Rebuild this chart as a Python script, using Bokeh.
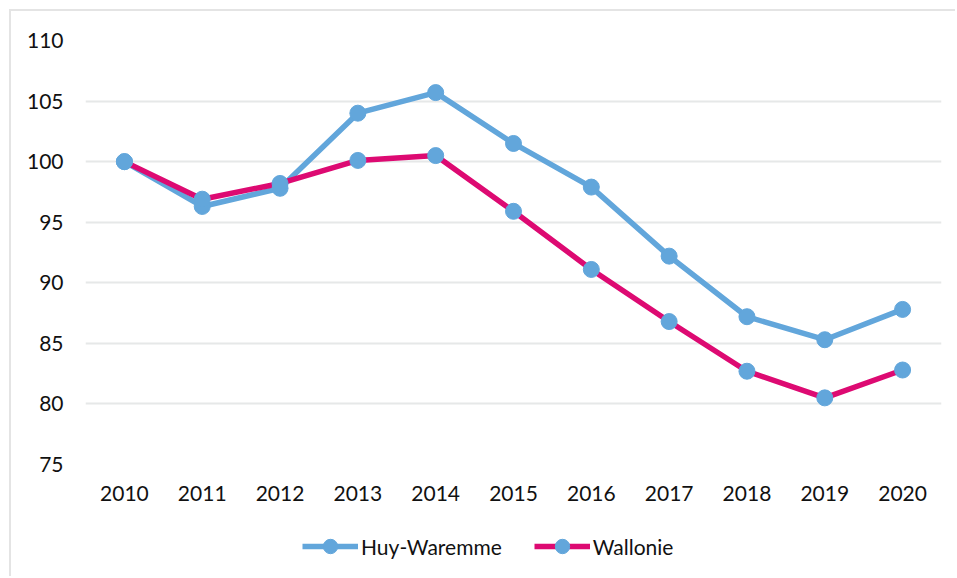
from bokeh.plotting import figure
from bokeh.layouts import column
from bokeh.models import Range1d, FactorRange, Legend, LegendItem, ColumnDataSource
from bokeh.embed import file_html
from bokeh.resources import INLINE

years = ["2010", "2011", "2012", "2013", "2014", "2015", "2016", "2017", "2018", "2019", "2020"]
huy_waremme = [100.0, 96.3, 97.8, 104.0, 105.7, 101.5, 97.9, 92.2, 87.2, 85.3, 87.8]
wallonie = [100.0, 96.9, 98.2, 100.1, 100.5, 95.9, 91.1, 86.8, 82.7, 80.5, 82.8]
y_ticks = [75, 80, 85, 90, 95, 100, 105, 110]

BLUE = "#62A6DB"
MAGENTA = "#DD0A72"
FONT = "Lato"
BORDER = "2px solid #E4E4E4"

src = ColumnDataSource(dict(x=years, hw=huy_waremme, wa=wallonie))

p = figure(width=946, height=508, x_range=FactorRange(*years), y_range=Range1d(75, 110),
           output_backend="svg", toolbar_location=None,
           min_border_left=74, min_border_right=16, min_border_top=29, min_border_bottom=55)
p.margin = (9, 0, 0, 9)
p.styles = {"border-left": BORDER, "border-top": BORDER}
p.outline_line_color = None
p.background_fill_color = "white"
p.border_fill_color = "white"

p.xgrid.grid_line_color = None
p.ygrid.grid_line_color = "#E6E8E8"
p.ygrid.grid_line_width = 2
p.yaxis.ticker = y_ticks

for ax in (p.xaxis[0], p.yaxis[0]):
    ax.axis_line_color = None
    ax.major_tick_line_color = None
    ax.minor_tick_line_color = None
    ax.major_tick_out = 0
    ax.major_tick_in = 0
    ax.major_label_text_font = FONT
    ax.major_label_text_font_size = "21px"
    ax.major_label_text_color = "#111111"
p.yaxis.major_label_standoff = 22
p.xaxis.major_label_standoff = 21
p.x_range.range_padding = 0

p.line("x", "hw", source=src, line_color=BLUE, line_width=5.5)
p.line("x", "wa", source=src, line_color=MAGENTA, line_width=5.5)
p.scatter("x", "hw", source=src, size=16, fill_color=BLUE, line_color=BLUE)
p.scatter("x", "wa", source=src, size=16, fill_color=BLUE, line_color=BLUE)

# legend strip below the chart (its glyphs fall outside its own range, only the legend shows)
lg = figure(width=946, height=59, x_range=FactorRange(*years), y_range=Range1d(0, 1),
            output_backend="svg", toolbar_location=None,
            x_axis_location=None, y_axis_location=None, min_border=0)
lg.margin = (0, 0, 0, 9)
lg.styles = {"border-left": BORDER}
lg.outline_line_color = None
lg.grid.grid_line_color = None
lg.background_fill_color = "white"
lg.border_fill_color = "white"

k1 = lg.line("x", "hw", source=src, line_color=BLUE, line_width=5.5)
k2 = lg.line("x", "wa", source=src, line_color=MAGENTA, line_width=5.5)
m1 = lg.scatter("x", "hw", source=src, size=16, fill_color=BLUE, line_color=BLUE)
m2 = lg.scatter("x", "wa", source=src, size=16, fill_color=BLUE, line_color=BLUE)

legend = Legend(items=[LegendItem(label="Huy-Waremme", renderers=[k1, m1]),
                       LegendItem(label="Wallonie", renderers=[k2, m2])],
                orientation="horizontal", location=(217, 12),
                glyph_width=56, glyph_height=36, label_standoff=3, spacing=32,
                padding=0, margin=0, border_line_color=None,
                background_fill_alpha=0,
                label_text_font=FONT, label_text_font_size="21px", label_text_color="#111111")
lg.add_layout(legend, "center")

layout = column(p, lg, spacing=0)
open("out.html", "w").write(file_html(layout, INLINE))
